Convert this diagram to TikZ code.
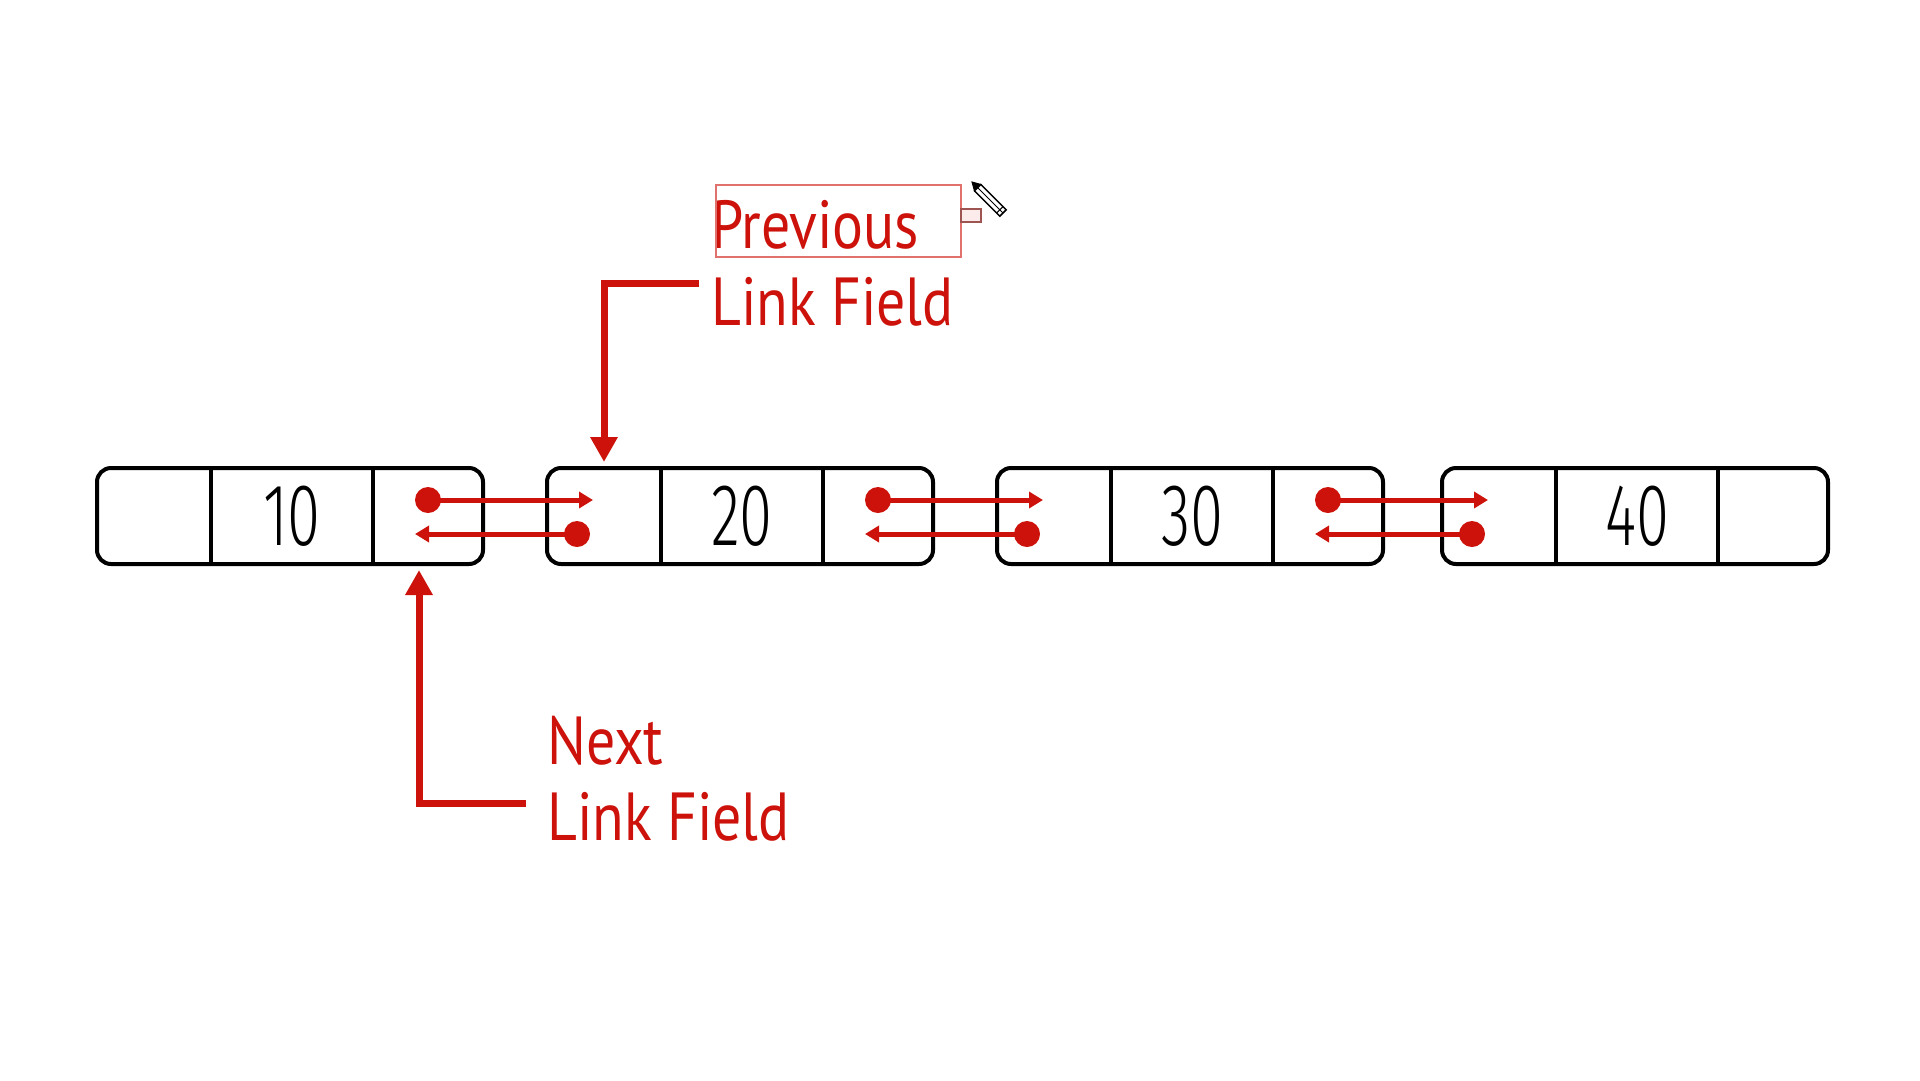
\documentclass[tikz,border=0pt]{standalone}
\usepackage{fontspec}
\usetikzlibrary{arrows.meta,positioning,calc}
\newfontfamily\labelfont[FakeStretch=0.85]{PT Sans}
\newfontfamily\numberfont[UprightFont={* Light}, FakeStretch=0.68]{Fira Sans}
\definecolor{linkred}{RGB}{204,18,10}

\begin{document}
\begin{tikzpicture}[
    x=1pt, y=-1pt,
    cell/.style={minimum height=96pt, inner sep=0pt, outer sep=0pt},
    prevcell/.style={cell, minimum width=114pt},
    datacell/.style={cell, minimum width=162pt, font=\numberfont\fontsize{88}{88}\selectfont},
    nextcell/.style={cell, minimum width=110pt},
    boxline/.style={draw=black, line width=4pt},
    link/.style={->, draw=linkred, line width=5pt, >={Triangle[length=14pt, width=16pt]}},
    dot/.style={fill=linkred},
    lbl/.style={text=linkred, inner sep=0pt, font=\labelfont\fontsize{68}{77}\selectfont},
    lblarrow/.style={->, draw=linkred, line width=7pt, >={Triangle[length=25pt, width=26pt]}}
]

\fill[white] (0,0) rectangle (1920,1080);
\useasboundingbox (0,0) rectangle (1920,1080);

% List nodes
\foreach \v/\x [count=\i] in {10/97,20/547,30/997,40/1442} {
  \node[prevcell] (p\i) at (\x+57, 516) {};
  \node[datacell, right=0pt of p\i] (d\i) {\v};
  \node[nextcell, right=0pt of d\i] (n\i) {};
  \draw[boxline, rounded corners=14pt] (p\i.north west) rectangle (n\i.south east);
  \draw[boxline] (d\i.north west) -- (d\i.south west) (d\i.north east) -- (d\i.south east);
}

% Links between neighbours
\foreach \i/\j in {1/2,2/3,3/4} {
  \fill[dot] ([yshift=16pt]n\i.center) circle (13pt);
  \draw[link] ([yshift=16pt]n\i.center) -- ([xshift=46pt,yshift=16pt]p\j.west);
  \fill[dot] ([xshift=30pt,yshift=-18pt]p\j.west) circle (13pt);
  \draw[link] ([xshift=30pt,yshift=-18pt]p\j.west) -- ([xshift=42pt,yshift=-18pt]n\i.west);
}

% Labels
\node[lbl, anchor=base west] (prevtop) at (711,248) {Previous};
\node[lbl, anchor=base west] (prevbot) at (711,325) {Link Field};
\node[lbl, anchor=base west] (nexttop) at (547,764) {Next};
\node[lbl, anchor=base west] (nextbot) at (547,840) {Link Field};

% Pointers to the fields
\coordinate (prevstart) at (699,283);
\coordinate (nextstart) at (526,803);
\draw[lblarrow, shorten >=6pt] (prevstart) -| (p2.north);
\draw[lblarrow, shorten >=6pt] (nextstart) -| ([xshift=-9pt]n1.south);

% Selection box and pencil
\draw[linkred!60, line width=1.5pt] (716,185) rectangle (961,257);
\draw[linkred!40!gray, fill=linkred!8, line width=1.5pt] (961,209) rectangle (981,222);
\filldraw[black, line width=1pt] (972,182) -- (974.5,190.9) -- (980.9,184.5) -- cycle;
\draw[black, fill=white, line width=1.5pt] (974.5,190.9) -- (980.9,184.5) -- (1006.2,209.8) -- (999.8,216.2) -- cycle;
\draw[black, line width=1pt] (977.7,187.7) -- (1003,213) (996.6,213.0) -- (1003.0,206.6);

\end{tikzpicture}
\end{document}
